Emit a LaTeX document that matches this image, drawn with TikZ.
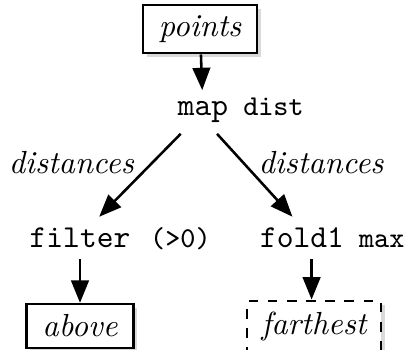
\documentclass[tikz,border=0pt]{standalone}
\usetikzlibrary{arrows.meta,shadows}

\tikzset{
  databox/.style={draw, thick, fill=white, font=\itshape, minimum width=1.15cm,
    minimum height=0.46cm, inner xsep=5pt,
    drop shadow={shadow xshift=1.2pt, shadow yshift=-1.2pt, opacity=0.3}},
  fn/.style={font=\ttfamily},
  fnarg/.style={font=\ttfamily\small, inner sep=0pt},
  flow/.style={-{Triangle[length=7pt,width=5.5pt]}, thick},
  edgelabel/.style={font=\itshape},
}

\begin{document}
\begin{tikzpicture}[x=0.011cm, y=-0.011cm]
\useasboundingbox (0,0) rectangle (408,349);
% inputs and stages
\node[databox] (points) at (200,29) {points};
\node[fn] (map) at (203,112) {map};
\node[fnarg, anchor=base west] (mapf) at ([xshift=1pt]map.base east) {dist};
\node[fn] (filter) at (80,238) {filter};
\node[fnarg, anchor=base west] (filterf) at ([xshift=2.5pt]filter.base east) {(>0)};
\node[fn] (fold) at (302,238) {fold1};
\node[fnarg, anchor=base west] (foldf) at ([xshift=1pt]fold.base east) {max};
% results
\node[databox] (above) at (80,326) {above};
\node[databox, dashed, inner xsep=4.5pt] (farthest) at (314,326) {farthest};
% connections
\draw[flow] (points) -- (map);
\draw[flow] ([xshift=-7pt]map.south) -- node[edgelabel, pos=0.35, left=2pt] {distances} ([xshift=6pt]filter.north);
\draw[flow] ([xshift=4.4pt]map.south) -- node[edgelabel, pos=0.35, right=1pt] {distances} ([xshift=-3pt]fold.north);
\draw[flow] (filter) -- (above);
\draw[flow] ([xshift=3pt]fold.south) -- ([xshift=3pt]fold.south |- farthest.north);
\end{tikzpicture}
\end{document}
